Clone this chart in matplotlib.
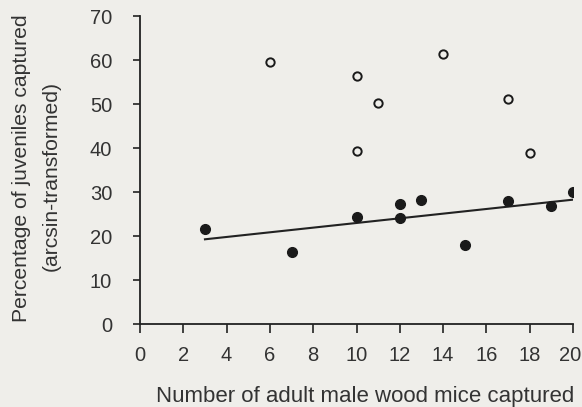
import matplotlib
matplotlib.use("Agg")
from matplotlib import pyplot as plt
from matplotlib.transforms import ScaledTranslation

plt.rcParams['font.family'] = ['Liberation Sans', 'DejaVu Sans']

# open circles
open_x = [6, 10, 11, 14, 17, 10, 18]
open_y = [59.5, 56.4, 50.2, 61.3, 51.1, 39.3, 38.9]

# filled circles
filled_x = [3, 7, 10, 12, 12, 13, 15, 17, 19, 20]
filled_y = [21.7, 16.4, 24.3, 27.3, 24.1, 28.3, 18.1, 28.0, 26.9, 30.0]

# fitted line
fit_x = [3, 20]
fit_y = [19.3, 28.3]

x_ticks = list(range(0, 21, 2))
y_ticks = list(range(0, 71, 10))

bg = '#efeeea'
ink = '#222222'
text_col = '#333333'

fig = plt.figure(figsize=(5.82, 4.07), dpi=100, facecolor=bg)
ax = fig.add_axes([140 / 582, 1 - 324.3 / 407, 433 / 582, (324.3 - 16) / 407])
ax.set_facecolor(bg)

ax.plot(fit_x, fit_y, color=ink, linewidth=1.5, zorder=2)
ax.plot(filled_x, filled_y, 'o', color='#1a1a1a', markersize=7, linestyle='none', zorder=3)
ax.plot(open_x, open_y, 'o', markerfacecolor=bg, markeredgecolor='#1a1a1a',
        markersize=6, markeredgewidth=1.4, linestyle='none', zorder=3)

ax.set_xlim(0, 20)
ax.set_ylim(0, 70)
ax.set_xticks(x_ticks)
ax.set_yticks(y_ticks)

for side in ['top', 'right']:
    ax.spines[side].set_visible(False)
for side in ['left', 'bottom']:
    ax.spines[side].set_color(ink)
    ax.spines[side].set_linewidth(1.3)

ax.tick_params(axis='x', direction='out', length=6.5, width=1.2, color=ink,
               labelsize=14.5, labelcolor=text_col, pad=9)
ax.tick_params(axis='y', direction='out', length=5, width=1.2, color=ink,
               labelsize=14.5, labelcolor=text_col, pad=15)

# last x label sits right on the page edge, nudge it in a touch
last = ax.get_xticklabels()[-1]
last.set_transform(last.get_transform() + ScaledTranslation(-3 / 100, 0, fig.dpi_scale_trans))

ax.set_xlabel('Number of adult male wood mice captured', fontsize=16,
              color=text_col, labelpad=15)
ax.xaxis.label.set_x(0.52)

fig.text(21.5 / 582, 1 - 168 / 407, 'Percentage of juveniles captured', rotation=90,
         ha='center', va='center', fontsize=15.2, color=text_col)
fig.text(51 / 582, 1 - 176 / 407, '(arcsin-transformed)', rotation=90,
         ha='center', va='center', fontsize=15.2, color=text_col)

fig.savefig('out.png', dpi=100, facecolor=bg)
